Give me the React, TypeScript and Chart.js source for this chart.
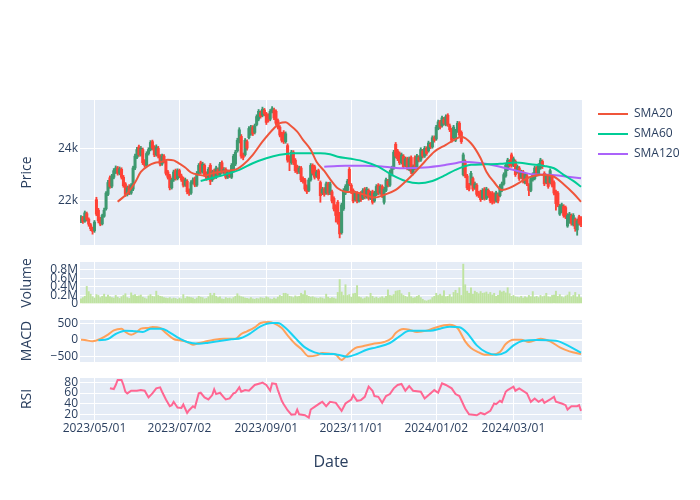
import React, { useEffect, useRef } from 'react';
import { Chart, registerables } from 'chart.js';

Chart.register(...registerables);

// ---- x axis ticks (trading-day index -> label) ----
const tickDay = [7, 51, 96, 140, 184, 224];
const tickLabel = ['2023/05/01', '2023/07/02', '2023/09/01', '2023/11/01', '2024/01/02', '2024/03/01'];

// ---- y axis ticks per panel ----
const priceTicks = [22000, 24000];
const volumeTicks = [0, 200000, 400000, 600000, 800000];
const macdTicks = [-500, 0, 500];
const rsiTicks = [20, 40, 60, 80];

// ---- daily OHLC ----
const open = [
  21250, 21380, 21230, 21520, 21310, 21100, 20960, 20870, 22050, 21650,
  21300, 21130, 21420, 21700, 22250, 22880, 22560, 22900, 23100, 23250,
  23050, 23200, 22900, 22650, 22250, 22550, 22300, 22450, 23250, 23650,
  24050, 23750, 23950, 23500, 23350, 23800, 23950, 24250, 24050, 23750,
  24000, 23700, 23400, 23700, 23500, 23100, 22950, 22500, 22800, 23150,
  22850, 23150, 22950, 22850, 22600, 22750, 22400, 22300, 22700, 22850,
  22600, 23050, 23450, 23100, 23350, 23050, 22900, 23350, 22800, 23150,
  22900, 23200, 23000, 23450, 23100, 23200, 22900, 23100, 22900, 23150,
  23400, 23900, 24250, 24450, 23750, 23750, 24250, 24400, 24550, 24800,
  24600, 24900, 25100, 25350, 25250, 25450, 25300, 25250, 25100, 25400,
  25450, 25400, 25050, 24800, 24550, 24600, 24250, 24100, 23650, 23450,
  23850, 23550, 23300, 23100, 23250, 22850, 22800, 22550, 22400, 22800,
  23350, 23300, 22950, 23150, 22700, 22300, 22450, 22300, 22650, 22300,
  22350, 22100, 21800, 21950, 21500, 20800, 21700, 22300, 22400, 23200,
  22600, 22400, 22050, 22300, 22000, 22300, 22100, 22450, 22150, 22400,
  22100, 22350, 22000, 22250, 22600, 22300, 22550, 21950, 22400, 22750,
  22600, 23000, 23250, 24150, 23900, 23800, 23450, 23700, 23350, 23600,
  23200, 23650, 23050, 23650, 23250, 23650, 23550, 23900, 23700, 24000,
  23900, 24150, 24050, 24400, 24350, 24750, 25000, 24850, 25100, 24900,
  25250, 24850, 24700, 24400, 24300, 24650, 24950, 24600, 23000, 23500,
  22950, 22600, 22650, 22850, 22500, 22600, 22300, 22350, 22100, 22450,
  22100, 22400, 22300, 22300, 22250, 22000, 22250, 22200, 22400, 22650,
  22950, 23200, 23500, 23750, 23350, 23500, 23100, 23250, 22900, 23100,
  22700, 22950, 22600, 22400, 22800, 22850, 23250, 23000, 23250, 23500,
  23050, 22700, 22950, 22700, 22950, 22700, 22350, 22300, 21500, 21600,
  21800, 21750, 21050, 21200, 21450, 21100, 21300, 20900, 21400, 21350,
];
const high = [
  21450, 21420, 21620, 21580, 21360, 21150, 21010, 21260, 22140, 21720,
  21380, 21500, 21730, 22360, 22780, 22950, 23010, 23230, 23330, 23310,
  23290, 23260, 22970, 22700, 22570, 22620, 22660, 23320, 23780, 24030,
  24120, 24070, 24010, 23570, 23870, 24020, 24290, 24310, 24100, 24130,
  24070, 23760, 23780, 23760, 23560, 23160, 23010, 22870, 23170, 23210,
  23220, 23210, 23020, 22910, 22870, 22810, 22460, 22770, 22880, 22910,
  23120, 23420, 23510, 23470, 23410, 23110, 23270, 23420, 23170, 23210,
  23320, 23260, 23470, 23520, 23270, 23260, 23170, 23160, 23420, 23770,
  23920, 24380, 24780, 24520, 23820, 24370, 24320, 24820, 24870, 24860,
  24920, 25270, 25470, 25420, 25560, 25510, 25360, 25310, 25470, 25580,
  25520, 25460, 25110, 24860, 24610, 24670, 24620, 24170, 23720, 23920,
  23910, 23610, 23360, 23320, 23310, 22920, 22860, 22610, 22870, 23420,
  23410, 23360, 23170, 23210, 22760, 22520, 22510, 22720, 22710, 22720,
  22410, 22160, 21860, 22020, 21570, 21920, 22470, 22620, 22820, 23270,
  22660, 22460, 22370, 22360, 22320, 22360, 22470, 22510, 22520, 22460,
  22370, 22410, 22370, 22620, 22660, 22620, 22610, 22520, 22870, 22820,
  23170, 23320, 23920, 24220, 23960, 23860, 23820, 23760, 23670, 23660,
  23670, 23710, 23370, 23710, 23770, 23720, 24020, 23960, 24070, 24060,
  24270, 24220, 24470, 24470, 24870, 25070, 25060, 25220, 25170, 25270,
  25310, 24920, 24760, 24870, 24720, 25020, 25010, 24660, 23820, 23560,
  23010, 22670, 23120, 22910, 22720, 22660, 22370, 22410, 22470, 22510,
  22520, 22460, 22360, 22360, 22310, 22370, 22310, 22620, 22720, 23070,
  23420, 23620, 23570, 23820, 23670, 23560, 23370, 23310, 23170, 23160,
  23070, 23010, 22660, 22920, 23070, 23320, 23310, 23420, 23620, 23560,
  23110, 23020, 23010, 23220, 23010, 22760, 22410, 22360, 21870, 21920,
  21860, 21810, 21520, 21570, 21510, 21520, 21360, 21320, 21460, 21410,
];
const low = [
  21180, 21150, 21190, 21240, 21040, 20870, 20740, 20810, 21440, 21170,
  21060, 21090, 21380, 21650, 22200, 22480, 22500, 22840, 23040, 22980,
  22990, 22830, 22520, 22170, 22190, 22240, 22250, 22390, 23190, 23600,
  23690, 23700, 23380, 23280, 23300, 23740, 23900, 23930, 23680, 23700,
  23630, 23330, 23350, 23440, 22980, 22830, 22420, 22450, 22740, 22790,
  22800, 22880, 22740, 22530, 22550, 22270, 22210, 22250, 22640, 22540,
  22550, 23000, 23030, 23050, 22930, 22780, 22850, 22620, 22740, 22830,
  22850, 22940, 22950, 23040, 23040, 22840, 22850, 22890, 22850, 23100,
  23340, 23850, 24200, 23620, 23560, 23700, 23930, 24350, 24490, 24480,
  24540, 24850, 25040, 25140, 25190, 25230, 24900, 24990, 25040, 25340,
  25080, 24880, 24730, 24430, 24230, 24180, 24190, 23470, 23150, 23390,
  23380, 23080, 23030, 23040, 22730, 22680, 22380, 22280, 22350, 22750,
  22980, 22830, 22890, 22780, 21950, 22240, 22180, 22250, 22230, 22240,
  21930, 21620, 21200, 21120, 20600, 20740, 21640, 22240, 22350, 22580,
  22280, 21930, 21990, 21930, 21950, 21980, 22050, 22080, 22100, 22030,
  22050, 21880, 21950, 22200, 22230, 22250, 22130, 21880, 22350, 22530,
  22550, 22950, 23200, 23630, 23530, 23380, 23400, 23230, 23300, 23180,
  23150, 23030, 22990, 23180, 23200, 23480, 23500, 23630, 23650, 23730,
  23850, 23980, 24000, 24230, 24300, 24700, 24730, 24800, 24880, 24850,
  24830, 24630, 24230, 24350, 24250, 24600, 24430, 24180, 22950, 22880,
  22430, 22380, 22600, 22380, 22440, 22180, 22130, 21980, 22050, 22030,
  22050, 22130, 21930, 21880, 21910, 21950, 21930, 22150, 22350, 22600,
  22900, 23150, 23280, 23280, 23300, 22930, 23050, 22780, 22850, 22680,
  22650, 22580, 22200, 22350, 22750, 22800, 22930, 22950, 23200, 23230,
  22580, 22650, 22480, 22650, 22530, 22230, 21650, 21780, 21450, 21550,
  21380, 21330, 21000, 21150, 21080, 21050, 20850, 20700, 21080, 21030,
];
const close = [
  21380, 21220, 21550, 21300, 21120, 20950, 20850, 21200, 21500, 21250,
  21120, 21450, 21650, 22300, 22700, 22550, 22950, 23150, 23250, 23050,
  23220, 22900, 22580, 22250, 22500, 22300, 22600, 23250, 23700, 23950,
  23750, 24000, 23450, 23350, 23800, 23950, 24220, 24000, 23750, 24050,
  23700, 23400, 23700, 23500, 23050, 22900, 22500, 22800, 23100, 22850,
  23150, 22950, 22800, 22600, 22800, 22350, 22300, 22700, 22800, 22600,
  23050, 23350, 23100, 23400, 23000, 22850, 23200, 22750, 23100, 22900,
  23250, 23000, 23400, 23100, 23200, 22900, 23100, 22950, 23350, 23700,
  23850, 24300, 24700, 23700, 23650, 24300, 24000, 24750, 24800, 24550,
  24850, 25200, 25400, 25200, 25480, 25300, 24980, 25050, 25400, 25500,
  25150, 24950, 24800, 24500, 24300, 24250, 24550, 23550, 23500, 23850,
  23450, 23150, 23100, 23250, 22800, 22750, 22450, 22350, 22800, 23350,
  23050, 22900, 23100, 22850, 22200, 22450, 22250, 22650, 22300, 22650,
  22000, 21700, 21450, 21200, 20750, 21850, 22400, 22550, 22750, 22650,
  22350, 22000, 22300, 22000, 22250, 22050, 22400, 22150, 22450, 22100,
  22300, 21950, 22300, 22550, 22300, 22550, 22200, 22450, 22800, 22600,
  23100, 23250, 23850, 23700, 23600, 23450, 23750, 23300, 23600, 23250,
  23600, 23100, 23300, 23250, 23700, 23550, 23950, 23700, 24000, 23800,
  24200, 24050, 24400, 24300, 24800, 25000, 24800, 25150, 24950, 25200,
  24900, 24700, 24300, 24800, 24650, 24950, 24500, 24250, 23750, 22950,
  22500, 22450, 23050, 22450, 22650, 22250, 22200, 22050, 22400, 22100,
  22450, 22200, 22000, 21950, 21980, 22300, 22000, 22550, 22650, 23000,
  23350, 23550, 23350, 23350, 23600, 23000, 23300, 22850, 23100, 22750,
  23000, 22650, 22400, 22850, 23000, 23250, 23000, 23350, 23550, 23300,
  22650, 22950, 22550, 23150, 22600, 22300, 21900, 21850, 21800, 21850,
  21450, 21400, 21450, 21500, 21150, 21450, 20950, 21250, 21150, 21100,
];

// ---- daily volume, in thousands ----
const volumeK = [
  120, 150, 180, 410, 290, 230, 170, 140, 220, 200,
  150, 180, 230, 160, 210, 170, 150, 140, 200, 160,
  130, 170, 200, 240, 150, 130, 260, 200, 220, 180,
  190, 210, 160, 140, 120, 190, 220, 180, 170, 300,
  200, 180, 170, 150, 140, 130, 150, 120, 140, 130,
  110, 140, 120, 220, 130, 170, 160, 150, 140, 110,
  140, 180, 160, 150, 120, 130, 170, 250, 200, 250,
  180, 150, 170, 120, 110, 150, 130, 140, 120, 150,
  180, 240, 190, 170, 160, 140, 130, 120, 150, 120,
  110, 130, 120, 150, 140, 130, 170, 150, 120, 110,
  140, 120, 160, 200, 180, 250, 250, 230, 180, 170,
  150, 190, 170, 180, 250, 220, 310, 200, 180, 160,
  170, 150, 140, 130, 150, 140, 120, 230, 160, 130,
  150, 140, 120, 270, 570, 280, 200, 450, 200, 220,
  160, 240, 250, 430, 170, 150, 120, 140, 170, 150,
  250, 180, 140, 160, 130, 150, 170, 140, 180, 330,
  200, 190, 220, 300, 310, 320, 240, 200, 180, 160,
  270, 170, 140, 150, 180, 200, 150, 110, 80, 70,
  90, 100, 150, 180, 250, 200, 230, 190, 310, 170,
  180, 220, 160, 270, 320, 250, 380, 200, 930, 450,
  300, 250, 380, 230, 300, 270, 240, 290, 250, 260,
  280, 230, 270, 210, 250, 180, 200, 310, 280, 300,
  260, 380, 240, 180, 200, 170, 160, 150, 180, 140,
  170, 150, 200, 170, 290, 160, 180, 150, 200, 170,
  190, 250, 170, 160, 200, 210, 300, 180, 220, 170,
  150, 190, 210, 280, 170, 200, 270, 160, 220, 150,
];

// ---- moving averages (read at these trading days) ----
const sma20Day = [19, 24, 28, 31, 35, 38, 42, 45, 48, 50, 54, 57, 61, 64, 68, 75, 81, 84, 89, 94, 100, 103, 106, 108, 112, 115, 119, 122, 126, 130, 133, 137, 142, 147, 152, 157, 163, 168, 173, 178, 183, 189, 194, 197, 202, 207, 210, 214, 218, 233, 238, 245, 250, 255, 259];
const sma20 = [21970, 22290, 22700, 23100, 23340, 23440, 23490, 23560, 23540, 23460, 23270, 23080, 22990, 22960, 23050, 23140, 23220, 23370, 23750, 24250, 24760, 24950, 24990, 24890, 24630, 24320, 23940, 23490, 23140, 22730, 22480, 22350, 22330, 22230, 22130, 22230, 22420, 22730, 23090, 23490, 23870, 24130, 24350, 24440, 24190, 23620, 23110, 22710, 22420, 22920, 22990, 22920, 22630, 22290, 21970];
const sma60Day = [62, 69, 75, 82, 89, 96, 103, 110, 117, 124, 129, 133, 140, 147, 154, 161, 168, 175, 182, 189, 194, 202, 209, 217, 225, 233, 240, 245, 250, 255, 259];
const sma60 = [22760, 22890, 23010, 23180, 23430, 23620, 23750, 23810, 23810, 23810, 23770, 23680, 23600, 23490, 23300, 22990, 22760, 22670, 22760, 22990, 23180, 23370, 23390, 23410, 23460, 23390, 23330, 23240, 22990, 22760, 22540];
const sma120Day = [126, 131, 137, 147, 157, 168, 178, 189, 194, 198, 208, 217, 226, 234, 243, 252, 259];
const sma120 = [23300, 23320, 23340, 23340, 23300, 23240, 23270, 23370, 23430, 23490, 23430, 23300, 23140, 23010, 22990, 22920, 22860];

// ---- MACD ----
const macdDay = [0, 2, 6, 10, 14, 17, 21, 23, 26, 29, 31, 35, 37, 41, 44, 48, 51, 55, 58, 61, 65, 69, 74, 80, 83, 86, 90, 93, 97, 100, 104, 107, 111, 114, 118, 122, 125, 129, 132, 135, 138, 142, 146, 151, 157, 161, 163, 167, 170, 174, 179, 183, 188, 191, 195, 199, 202, 206, 209, 213, 217, 220, 224, 228, 232, 238, 243, 248, 253, 259];
const macd = [10, 0, -40, 30, 160, 290, 340, 240, 160, 240, 340, 360, 390, 360, 210, 30, -10, -60, -140, -90, -40, 10, 40, 40, 180, 260, 380, 510, 540, 500, 360, 140, -120, -260, -490, -460, -390, -410, -440, -600, -440, -240, -190, -120, -60, 60, 210, 330, 310, 240, 280, 360, 440, 460, 360, -40, -240, -370, -440, -440, -360, -120, 10, 10, -60, 40, -40, -220, -340, -420];
const signalDay = [9, 14, 18, 23, 28, 32, 36, 42, 45, 50, 55, 61, 66, 71, 78, 83, 88, 93, 99, 102, 106, 111, 116, 121, 126, 131, 133, 138, 143, 148, 153, 160, 165, 170, 176, 181, 186, 191, 196, 200, 205, 210, 215, 220, 224, 229, 236, 246, 253, 259];
const signal = [-10, 30, 180, 280, 260, 240, 340, 340, 260, 80, -60, -110, -80, -40, 20, 60, 210, 410, 510, 510, 360, 60, -220, -370, -420, -420, -440, -500, -420, -290, -220, -90, 110, 280, 280, 280, 340, 400, 380, 210, -160, -370, -440, -360, -160, -20, 0, -20, -190, -380];

// ---- RSI ----
const rsiDay = [15, 17, 18, 19, 21, 22, 23, 24, 26, 29, 31, 33, 35, 37, 39, 41, 42, 44, 46, 47, 48, 50, 52, 53, 55, 56, 58, 59, 61, 62, 64, 66, 68, 69, 70, 72, 74, 75, 77, 79, 80, 82, 83, 85, 87, 90, 93, 94, 96, 98, 99, 101, 102, 104, 105, 107, 109, 111, 112, 113, 116, 118, 119, 121, 124, 125, 127, 129, 132, 135, 137, 140, 141, 143, 145, 147, 149, 151, 152, 154, 156, 158, 160, 162, 164, 166, 168, 170, 172, 176, 178, 181, 183, 185, 187, 189, 192, 194, 196, 199, 201, 205, 207, 209, 212, 214, 215, 217, 218, 220, 221, 224, 225, 227, 231, 233, 235, 237, 239, 240, 243, 245, 246, 249, 251, 252, 254, 257, 258, 259];
const rsi = [68.8, 67.5, 75, 84.4, 84.4, 75, 62.5, 59.4, 64.4, 64.4, 65.6, 64.4, 51.9, 59.4, 68.8, 70.6, 62.5, 48.1, 35.6, 37.5, 43.8, 33.1, 32.5, 38.8, 23.1, 28.1, 35.6, 33.1, 59.4, 60.6, 51.9, 48.1, 56.3, 66.9, 58.1, 60.6, 51.9, 48.1, 50, 59.4, 60.6, 70.6, 62.5, 65.6, 64.4, 75, 78.1, 79.4, 75, 64.4, 78.1, 76.9, 65.6, 45.6, 39.4, 28.1, 20, 20.6, 29.4, 20.6, 18.8, 14.4, 29.4, 34.4, 41.9, 43.8, 35.6, 43.8, 41.9, 26.9, 40.6, 48.1, 56.3, 45.6, 46.9, 53.1, 71.9, 64.4, 54.4, 53.1, 41.9, 54.4, 58.1, 68.8, 75, 76.9, 64.4, 73.1, 64.4, 62.5, 50, 59.4, 65.6, 60.6, 78.1, 75, 68.8, 58.1, 54.4, 31.3, 20.6, 18.8, 23.1, 20.6, 26.9, 40.6, 39.4, 45.6, 43.1, 62.5, 65.6, 71.9, 64.4, 68.8, 59.4, 43.8, 50, 43.8, 48.1, 41.9, 48.1, 53.1, 43.8, 40.6, 37.5, 29.4, 35.6, 35.6, 37.5, 26.9];

// ---- styling ----
const UP = '#3D9970';
const DOWN = '#FF4136';
const SMA_NAMES = ['SMA20', 'SMA60', 'SMA120'];
const SMA_COLORS = ['#EF553B', '#00CC96', '#AB63FA'];
const VOL_COLOR = '#bfe3a0';
const FONT = '"Open Sans", verdana, arial, sans-serif';
const INK = '#2a3f5f';
const GRID = '#ffffff';
const PANEL = '#E5ECF6';

const pts = (days: number[], vals: number[]) => days.map((d, k) => ({ x: d, y: vals[k] }));

const bgPlugin = {
  id: 'panelBg',
  beforeDraw(chart: any) {
    const { ctx, chartArea } = chart;
    ctx.save();
    ctx.fillStyle = PANEL;
    ctx.fillRect(chartArea.left, chartArea.top, chartArea.right - chartArea.left, chartArea.bottom - chartArea.top);
    ctx.restore();
  },
};

const legendPlugin = {
  id: 'legendPlace',
  beforeLayout(chart: any) {
    const lg = chart.legend;
    if (lg && !lg.__fixed) {
      const orig = lg.fit;
      lg.fit = function () {
        orig.call(this);
        this.width = 118;
      };
      lg.__fixed = true;
    }
  },
  afterLayout(chart: any) {
    const lg = chart.legend;
    if (lg) lg.left = chart.chartArea.right + 8;
  },
};

function xAxis(labels: boolean): any {
  return {
    type: 'linear',
    min: -0.5,
    max: close.length - 0.5,
    offset: false,
    afterBuildTicks: (s: any) => {
      s.ticks = tickDay.map((v) => ({ value: v }));
    },
    afterFit: (s: any) => {
      s.height = labels ? 52 : 0;
    },
    grid: { color: GRID, lineWidth: 1, drawTicks: false, offset: false },
    border: { display: false },
    ticks: {
      display: labels,
      autoSkip: false,
      maxRotation: 0,
      minRotation: 0,
      padding: 1,
      color: INK,
      font: { family: FONT, size: 12 },
      callback: (_v: any, i: number) => tickLabel[i],
    },
    title: { display: labels, text: 'Date', color: INK, font: { family: FONT, size: 16 }, padding: { top: 0, bottom: 0 } },
  };
}

function yAxis(title: string, min: number, max: number, tickVals: number[], fmt: (v: number) => string): any {
  return {
    type: 'linear',
    min,
    max,
    beginAtZero: false,
    afterBuildTicks: (s: any) => {
      s.ticks = tickVals.map((v) => ({ value: v }));
    },
    afterFit: (s: any) => {
      s.width = 80;
    },
    grid: {
      color: GRID,
      lineWidth: (c: any) => (c.tick && c.tick.value === 0 ? 2 : 1),
      drawTicks: false,
    },
    border: { display: false },
    ticks: {
      autoSkip: false,
      padding: 2,
      color: INK,
      font: { family: FONT, size: 12 },
      callback: (v: any) => fmt(Number(v)),
    },
    title: { display: true, text: title, color: INK, font: { family: FONT, size: 14 }, padding: { top: 19, bottom: 0 } },
  };
}

function baseOptions(top: number, bottom: number, right: number, labels: boolean, y: any, legend?: any): any {
  return {
    responsive: false,
    maintainAspectRatio: false,
    animation: false,
    devicePixelRatio: 1,
    events: [],
    layout: { padding: { top, bottom, left: 0, right } },
    scales: { x: xAxis(labels), y },
    plugins: { legend: legend || { display: false }, tooltip: { enabled: false } },
  };
}

function priceConfig(): any {
  const colors = close.map((c, k) => (c >= open[k] ? UP : DOWN));
  const smaSets = [
    [sma20Day, sma20],
    [sma60Day, sma60],
    [sma120Day, sma120],
  ];
  return {
    type: 'bar',
    data: {
      datasets: [
        {
          type: 'bar',
          label: 'wick',
          data: close.map((_c, k) => ({ x: k, y: [low[k], high[k]] })),
          backgroundColor: colors,
          barThickness: 1.2,
          grouped: false,
          order: 3,
        },
        {
          type: 'bar',
          label: 'body',
          data: close.map((c, k) => ({ x: k, y: [open[k], c] })),
          backgroundColor: colors,
          barThickness: 2.4,
          minBarLength: 2,
          grouped: false,
          order: 2,
        },
        ...smaSets.map(([d, v], k) => ({
          type: 'line',
          label: SMA_NAMES[k],
          data: pts(d as number[], v as number[]),
          borderColor: SMA_COLORS[k],
          backgroundColor: SMA_COLORS[k],
          borderWidth: 2,
          pointRadius: 0,
          fill: false,
          cubicInterpolationMode: 'monotone',
          order: 1,
        })),
      ],
    },
    options: baseOptions(
      100,
      255,
      0,
      false,
      yAxis('Price', 20330, 25830, priceTicks, (v) => v / 1000 + 'k'),
      {
        display: true,
        position: 'right',
        align: 'start',
        labels: {
          boxWidth: 30,
          boxHeight: 2,
          padding: 8,
          color: INK,
          font: { family: FONT, size: 12 },
          generateLabels: () =>
            SMA_NAMES.map((t, k) => ({
              text: t,
              fillStyle: SMA_COLORS[k],
              strokeStyle: SMA_COLORS[k],
              lineWidth: 0,
              hidden: false,
              datasetIndex: k + 2,
              fontColor: INK,
            })),
        },
      }
    ),
    plugins: [bgPlugin, legendPlugin],
  };
}

function volumeConfig(): any {
  return {
    type: 'bar',
    data: {
      datasets: [
        {
          label: 'Volume',
          data: volumeK.map((v, k) => ({ x: k, y: v * 1000 })),
          backgroundColor: VOL_COLOR,
          barThickness: 1.3,
          grouped: false,
        },
      ],
    },
    options: baseOptions(262, 196, 118, false, yAxis('Volume', 0, 980000, volumeTicks, (v) => (v === 0 ? '0' : (v / 1e6).toFixed(1) + 'M'))),
    plugins: [bgPlugin],
  };
}

function macdConfig(): any {
  return {
    type: 'line',
    data: {
      datasets: [
        {
          label: 'MACD',
          data: pts(macdDay, macd),
          borderColor: '#FFA15A',
          borderWidth: 2,
          pointRadius: 0,
          cubicInterpolationMode: 'monotone',
          order: 2,
        },
        {
          label: 'Signal',
          data: pts(signalDay, signal),
          borderColor: '#19D3F3',
          borderWidth: 2,
          pointRadius: 0,
          cubicInterpolationMode: 'monotone',
          order: 1,
        },
      ],
    },
    options: baseOptions(320, 138, 118, false, yAxis('MACD', -659, 599, macdTicks, (v) => (v < 0 ? '\u2212' + Math.abs(v) : String(v)))),
    plugins: [bgPlugin],
  };
}

function rsiConfig(): any {
  return {
    type: 'line',
    data: {
      datasets: [
        {
          label: 'RSI',
          data: pts(rsiDay, rsi),
          borderColor: '#FF6692',
          borderWidth: 2,
          pointRadius: 0,
          tension: 0,
        },
      ],
    },
    options: baseOptions(378, 28, 118, true, yAxis('RSI', 10, 88, rsiTicks, (v) => String(v))),
    plugins: [bgPlugin],
  };
}

export default function App() {
  const r1 = useRef<HTMLCanvasElement>(null);
  const r2 = useRef<HTMLCanvasElement>(null);
  const r3 = useRef<HTMLCanvasElement>(null);
  const r4 = useRef<HTMLCanvasElement>(null);

  useEffect(() => {
    Chart.defaults.font.family = FONT;
    Chart.defaults.color = INK;
    const charts = [
      new Chart(r1.current as HTMLCanvasElement, priceConfig()),
      new Chart(r2.current as HTMLCanvasElement, volumeConfig()),
      new Chart(r3.current as HTMLCanvasElement, macdConfig()),
      new Chart(r4.current as HTMLCanvasElement, rsiConfig()),
    ];
    return () => charts.forEach((c) => c.destroy());
  }, []);

  const cs: React.CSSProperties = { position: 'absolute', left: 0, top: 0, width: 700, height: 500 };
  return (
    <div style={{ position: 'absolute', left: 0, top: 0, width: 700, height: 500, background: '#ffffff' }}>
      <canvas ref={r1} width={700} height={500} style={cs} />
      <canvas ref={r2} width={700} height={500} style={cs} />
      <canvas ref={r3} width={700} height={500} style={cs} />
      <canvas ref={r4} width={700} height={500} style={cs} />
    </div>
  );
}
